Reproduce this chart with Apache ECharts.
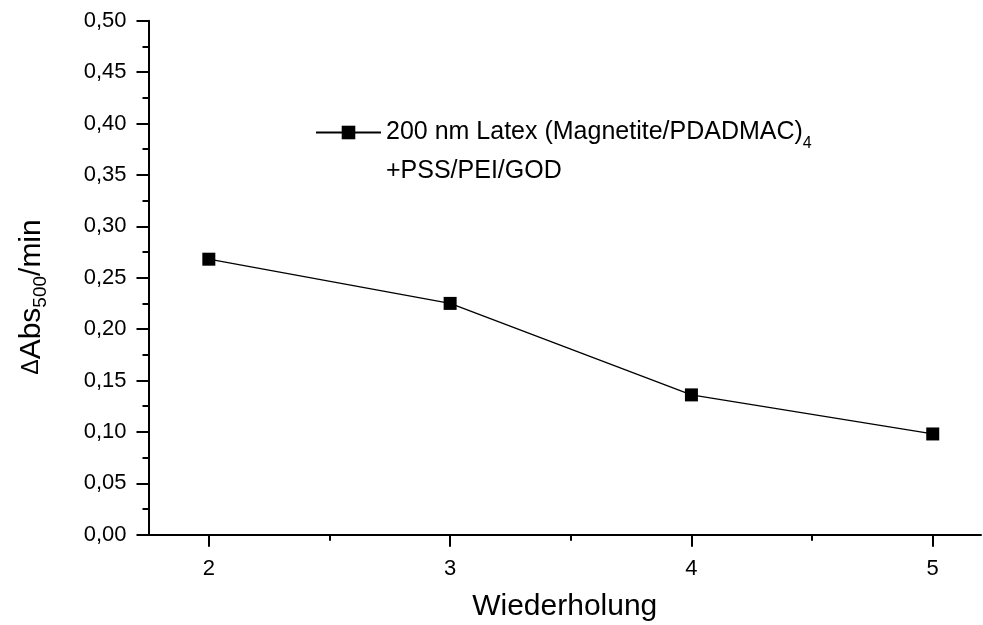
<!DOCTYPE html>
<html>
<head>
<meta charset="utf-8">
<script src="https://cdn.jsdelivr.net/npm/echarts@6/dist/echarts.min.js"></script>
<style>
  html, body { margin: 0; padding: 0; background: #fff; }
  #chart { width: 983px; height: 625px; }
</style>
</head>
<body>
<div id="chart"></div>
<script>
// Repetition number and activity per cycle
const repetitions = [2, 3, 4, 5];
const deltaAbs = [0.268, 0.225, 0.136, 0.098];
const xMajorTicks = [2, 3, 4, 5];
const xMinorTicks = [2.5, 3.5, 4.5];
const seriesName = '200 nm Latex (Magnetite/PDADMAC)4 +PSS/PEI/GOD';

const FONT = '"Liberation Sans", Arial, sans-serif';
const chart = echarts.init(document.getElementById('chart'));

const axisLineStyle = { color: '#000', width: 2 };

chart.setOption({
  animation: false,
  backgroundColor: '#fff',
  textStyle: { fontFamily: FONT, color: '#000' },
  grid: { left: 148.5, right: 2, top: 20.7, bottom: 90.3, containLabel: false, outerBoundsMode: 'none' },
  xAxis: [
    {
      type: 'value',
      min: 1.75,
      max: 5.2,
      splitLine: { show: false },
      axisLine: { show: true, onZero: false, lineStyle: axisLineStyle },
      axisTick: { show: true, customValues: xMajorTicks, length: 12, lineStyle: { width: 2, color: '#000' } },
      axisLabel: { customValues: xMajorTicks, fontSize: 22, color: '#000', margin: 23, fontFamily: FONT },
      name: 'Wiederholung',
      nameLocation: 'middle',
      nameGap: 57,
      nameTextStyle: { fontSize: 30, color: '#000', fontFamily: FONT }
    },
    {
      // minor ticks between the repetitions
      type: 'value',
      position: 'bottom',
      min: 1.75,
      max: 5.2,
      splitLine: { show: false },
      axisLine: { show: false },
      axisTick: { show: true, customValues: xMinorTicks, length: 6, lineStyle: { width: 2, color: '#000' } },
      axisLabel: { show: false, customValues: xMinorTicks }
    }
  ],
  yAxis: {
    type: 'value',
    min: 0,
    max: 0.5,
    interval: 0.05,
    splitLine: { show: false },
    axisLine: { show: true, lineStyle: axisLineStyle },
    axisTick: { show: true, length: 12, lineStyle: { width: 2, color: '#000' } },
    minorTick: { show: true, splitNumber: 2, length: 6, lineStyle: { width: 2, color: '#000' } },
    axisLabel: {
      fontSize: 22,
      color: '#000',
      margin: 22,
      fontFamily: FONT,
      formatter: v => v.toFixed(2).replace('.', ',')
    }
  },
  legend: {
    show: true,
    left: 310,
    top: 76,
    itemWidth: 65,
    itemHeight: 17,
    data: [seriesName],
    formatter: () => '{a| }\n{a|200 nm Latex (Magnetite/PDADMAC)}{s|4}\n{a|+PSS/PEI/GOD}',
    textStyle: {
      fontFamily: FONT,
      color: '#000',
      rich: {
        a: { fontSize: 25, lineHeight: 39, fontFamily: FONT, color: '#000' },
        s: { fontSize: 16, lineHeight: 39, verticalAlign: 'bottom', padding: [16, 0, 0, 0], fontFamily: FONT, color: '#000' }
      }
    }
  },
  graphic: [
    {
      type: 'text',
      x: 32,
      y: 297,
      rotation: Math.PI / 2,
      style: {
        text: '{d|Δ}{t|Abs}{s|500}{t|/min}',
        align: 'center',
        verticalAlign: 'middle',
        fill: '#000',
        rich: {
          d: { fontSize: 23, fontFamily: FONT, fill: '#000' },
          t: { fontSize: 30, fontFamily: FONT, fill: '#000' },
          s: { fontSize: 19, fontFamily: FONT, fill: '#000', padding: [18, 0, 0, 0] }
        }
      }
    }
  ],
  series: [
    {
      name: seriesName,
      type: 'line',
      data: repetitions.map((r, i) => [r, deltaAbs[i]]),
      symbol: 'rect',
      symbolSize: 13,
      showSymbol: true,
      lineStyle: { color: '#000', width: 1.3 },
      itemStyle: { color: '#000' },
      emphasis: { disabled: true }
    }
  ]
});
</script>
</body>
</html>
